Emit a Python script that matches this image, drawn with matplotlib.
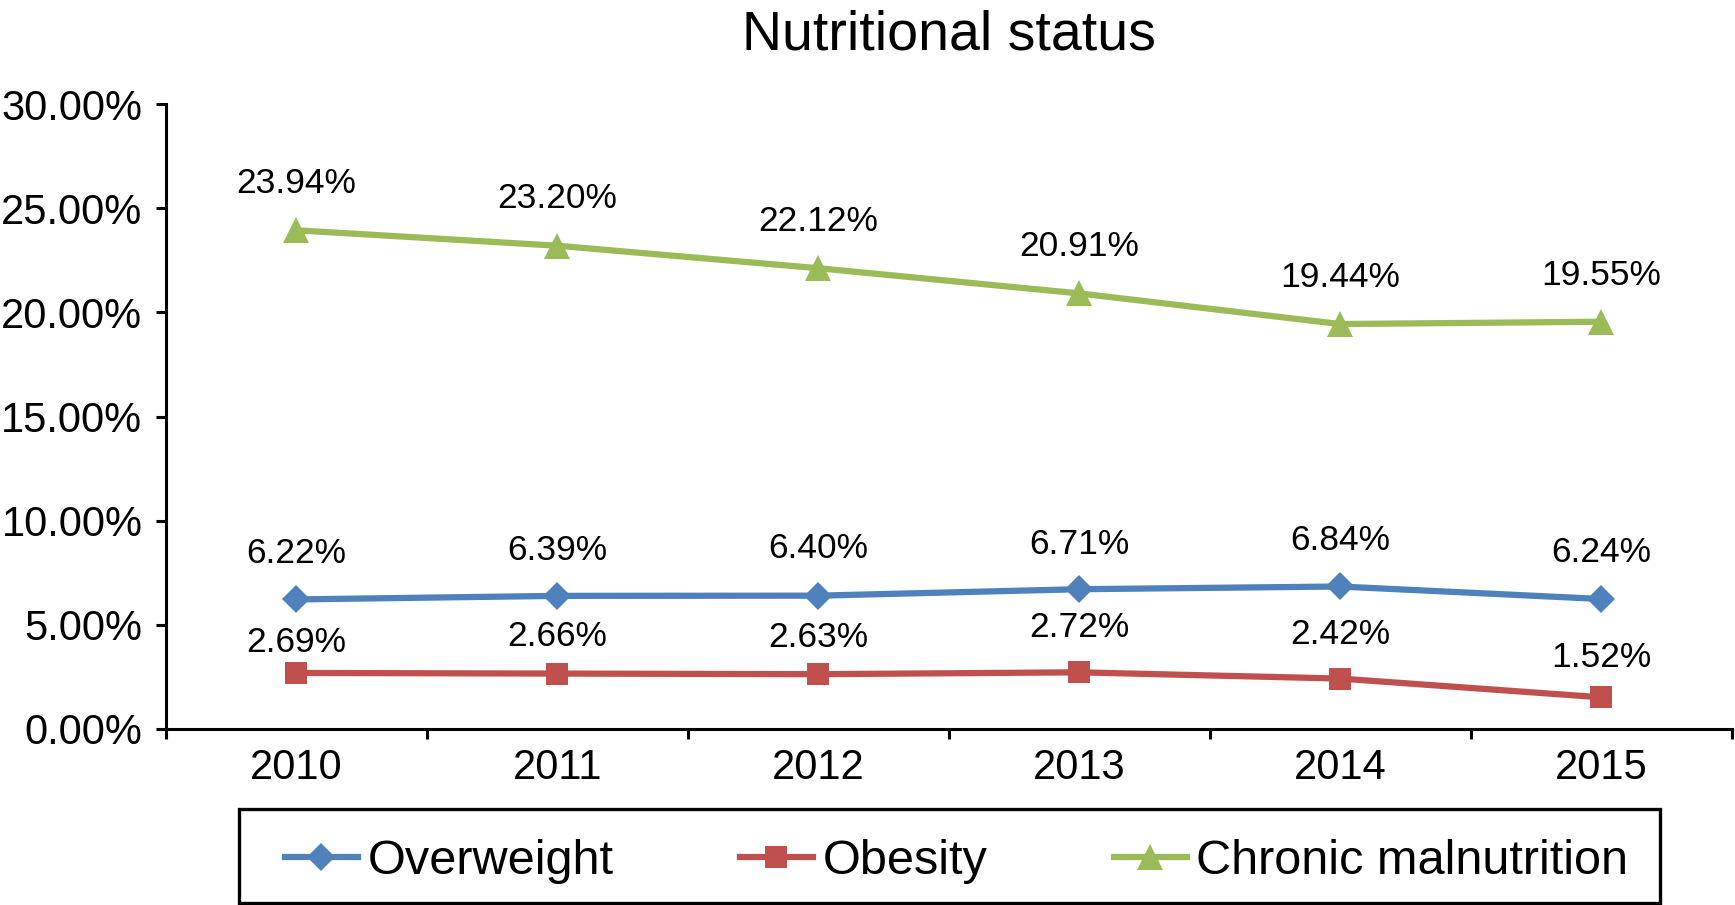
import matplotlib
matplotlib.use("Agg")
import matplotlib.pyplot as plt
from matplotlib.patches import Rectangle
from matplotlib.ticker import FixedLocator, PercentFormatter

plt.rcParams['font.family'] = ['Liberation Sans', 'DejaVu Sans']

years = ["2010", "2011", "2012", "2013", "2014", "2015"]
overweight = [6.22, 6.39, 6.40, 6.71, 6.84, 6.24]
obesity = [2.69, 2.66, 2.63, 2.72, 2.42, 1.52]
chronic = [23.94, 23.20, 22.12, 20.91, 19.44, 19.55]
series_names = ["Overweight", "Obesity", "Chronic malnutrition"]
y_ticks = [0, 5, 10, 15, 20, 25, 30]

colors = ["#4F81BD", "#C0504D", "#9BBB59"]
markers = ["D", "s", "^"]
msizes = [13.8, 16.5, 19]
# label offsets (pixels above point)
label_offsets = [
    [46, 45, 47, 45, 46, 46],
    [30, 37, 37, 45, 44, 40],
    [47, 47, 47, 47, 47, 46],
]

fig = plt.figure(figsize=(17.35, 9.05), dpi=100)
ax = fig.add_axes([0.0957, 0.1945, 0.9023, 0.6905])

x = list(range(len(years)))
all_series = [overweight, obesity, chronic]
handles = []
for vals, name, c, m, ms, offs in zip(all_series, series_names, colors, markers, msizes, label_offsets):
    h, = ax.plot(x, vals, color=c, marker=m, markersize=ms, linewidth=4.5,
                 markeredgewidth=0, label=name, clip_on=False, zorder=3)
    handles.append(h)
    for xi, v, o in zip(x, vals, offs):
        ax.annotate(f"{v:.2f}%", (xi, v), xytext=(0, o), textcoords='offset pixels',
                    ha='center', va='center', fontsize=25.5, color='black')

ax.set_xlim(-0.5, len(years) - 0.5)
ax.set_ylim(0, 30)
ax.yaxis.set_major_locator(FixedLocator(y_ticks))
ax.yaxis.set_major_formatter(PercentFormatter(decimals=2))
ax.set_xticks(x)
ax.set_xticklabels(years)
ax.set_xticks([i - 0.5 for i in range(len(years) + 1)], minor=True)

for s in ['top', 'right']:
    ax.spines[s].set_visible(False)
for s in ['left', 'bottom']:
    ax.spines[s].set_linewidth(2.2)

ax.tick_params(axis='y', which='major', direction='out', length=7, width=2.2,
               labelsize=30, pad=10)
ax.tick_params(axis='x', which='major', length=0, labelsize=30, pad=14)
ax.tick_params(axis='x', which='minor', direction='out', length=7, width=2.2)

fig.text(0.5471, 0.961, "Nutritional status", ha='center', va='center', fontsize=40)

# legend box
fig.patches.append(Rectangle((0.1378, 0.0024), 0.8188, 0.104, transform=fig.transFigure,
                             fill=False, edgecolor='black', linewidth=2.4))
leg = fig.legend(handles=handles, loc='center left', bbox_to_anchor=(0.1641, 0.0484),
                 ncol=3, frameon=False, fontsize=35, handlelength=1.5,
                 handletextpad=0.2, columnspacing=2.6, borderpad=0, borderaxespad=0)

fig.savefig("out.png", dpi=100)
